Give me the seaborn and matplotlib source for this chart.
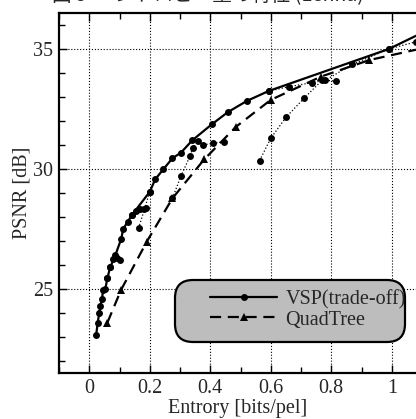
import matplotlib
matplotlib.use("Agg")
import matplotlib.pyplot as plt
from matplotlib.patches import FancyBboxPatch
from matplotlib.transforms import IdentityTransform
from matplotlib.ticker import MultipleLocator
import seaborn as sns

# ------------------------------------------------------------------
# DATOS
# ------------------------------------------------------------------
vsp_x = [0.023, 0.028, 0.033, 0.037, 0.042, 0.046, 0.053, 0.060, 0.069, 0.086,
         0.106, 0.112, 0.127, 0.142, 0.200, 0.218, 0.245, 0.275, 0.303, 0.341,
         0.405, 0.457, 0.520, 0.593, 0.990, 1.080]
vsp_y = [23.10, 23.60, 24.00, 24.30, 24.60, 24.96, 25.00, 25.45, 25.90, 26.40,
         27.10, 27.50, 27.80, 28.10, 29.05, 29.57, 29.99, 30.45, 30.68, 31.20,
         31.86, 32.36, 32.83, 33.25, 35.00, 35.55]

qt_x = [0.060, 0.105, 0.190, 0.275, 0.380, 0.485, 0.600, 0.766, 0.926, 1.080]
qt_y = [23.60, 24.96, 26.97, 28.78, 30.40, 31.76, 32.88, 33.85, 34.54, 34.97]

# ramas punteadas (VSP con parametros fijos, sin leyenda)
d0_x = [0.060, 0.069, 0.080, 0.092, 0.100]
d0_y = [25.45, 25.90, 26.25, 26.30, 26.20]
d1_x = [0.142, 0.155, 0.168, 0.180, 0.187]
d1_y = [28.10, 28.25, 28.32, 28.35, 28.36]
d2_x = [0.163, 0.200]
d2_y = [27.53, 29.05]
d3_x = [0.275, 0.303, 0.333, 0.342, 0.361, 0.375, 0.410, 0.446]
d3_y = [28.78, 29.70, 30.54, 30.86, 31.17, 31.00, 31.07, 31.14]
d4_x = [0.563, 0.600, 0.650, 0.710, 0.770, 0.815]
d4_y = [30.35, 31.28, 32.15, 32.95, 33.70, 33.67]
d5_x = [0.593, 0.661, 0.736, 0.780, 0.870, 0.990, 1.080]
d5_y = [33.25, 33.43, 33.60, 33.70, 34.36, 35.00, 35.30]

x_ticks = [0, 0.2, 0.4, 0.6, 0.8, 1]
x_labels = ["0", "0.2", "0.4", "0.6", "0.8", "1"]
y_ticks = [25, 30, 35]

FS = 14.5
W, H = 416, 419

# ------------------------------------------------------------------
# ESTILO
# ------------------------------------------------------------------
sns.set_style("ticks")
plt.rcParams["font.family"] = ["Liberation Serif", "DejaVu Serif"]

fig = plt.figure(figsize=(W / 100, H / 100), dpi=100)
ax = fig.add_axes([59 / W, 46 / H, 357 / W, 360 / H])

dotted = dict(color="black", linewidth=0.9, linestyle=":", marker="o",
              markersize=5, markeredgewidth=0, sort=False, estimator=None)
for dx, dy in [(d0_x, d0_y), (d1_x, d1_y), (d2_x, d2_y),
               (d3_x, d3_y), (d4_x, d4_y), (d5_x, d5_y)]:
    sns.lineplot(x=dx, y=dy, ax=ax, **dotted)

sns.lineplot(x=vsp_x, y=vsp_y, ax=ax, color="black", linewidth=1.6,
             marker="o", markersize=5, markeredgewidth=0,
             markevery=list(range(len(vsp_x) - 1)),
             sort=False, estimator=None, label="VSP(trade-off)")
sns.lineplot(x=qt_x, y=qt_y, ax=ax, color="black", linewidth=1.6,
             linestyle=(0, (5, 3)), marker="^", markersize=6,
             markeredgewidth=0, markevery=list(range(len(qt_x) - 1)),
             sort=False, estimator=None, label="QuadTree")

ax.set_xlim(-0.1, 1.08)
ax.set_ylim(21.5, 36.5)
ax.set_xticks(x_ticks)
ax.set_xticklabels(x_labels)
ax.set_yticks(y_ticks)
ax.xaxis.set_minor_locator(MultipleLocator(0.1))
ax.yaxis.set_minor_locator(MultipleLocator(1))
ax.tick_params(which="both", direction="in", top=True, right=False,
               labelsize=FS, width=1.0, color="black", pad=4)
ax.tick_params(which="major", length=6)
ax.tick_params(which="minor", length=4)
ax.grid(True, which="major", color="black", linestyle=":", linewidth=0.8)

for side in ["left", "bottom", "top"]:
    ax.spines[side].set_linewidth(1.6)
    ax.spines[side].set_color("black")
ax.spines["right"].set_visible(False)

ax.set_xlabel("Entrory [bits/pel]", fontsize=FS, labelpad=1)
ax.set_ylabel("PSNR [dB]", fontsize=FS, labelpad=1)

# caja gris redondeada de la leyenda (en pixeles)
box = FancyBboxPatch((175, H - 342), 230, 62,
                     boxstyle="round,pad=0,rounding_size=18",
                     transform=IdentityTransform(), facecolor="#bdbdbd",
                     edgecolor="black", linewidth=1.6, zorder=4, clip_on=False)
ax.add_patch(box)

leg = ax.legend(loc="upper left", bbox_to_anchor=(210 / W, 1 - 290 / H),
                bbox_transform=fig.transFigure,
                fontsize=FS, frameon=False,
                handlelength=3.35, handletextpad=0.4, labelspacing=0.05,
                borderpad=0, borderaxespad=0)
leg.set_zorder(5)

# titulo original, recortado en el borde superior
fig.text(0.5, 1.0 + 4 / H, "図 5  エントロピー量の特性 (Lenna)", ha="center",
         va="center", fontsize=14,
         family=["Noto Sans CJK JP", "DejaVu Sans"])

fig.savefig("out.png", dpi=100)
